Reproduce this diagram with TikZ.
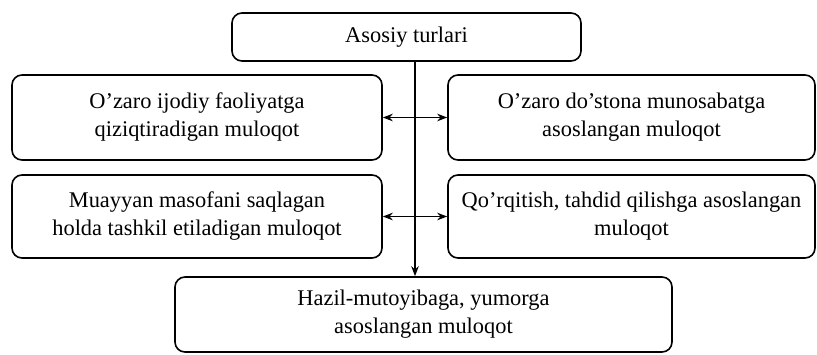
\documentclass[tikz,border=0pt]{standalone}
\usepackage{fontspec}
\setmainfont{Liberation Serif}
\usepackage{tikz}
\usetikzlibrary{arrows.meta, positioning, calc}
\tikzset{
  turbox/.style={draw, thick, rounded corners=5pt, align=center, font=\fontsize{11.2}{14}\selectfont, inner sep=0pt},
  link/.style={thick, {Stealth[length=5pt]}-{Stealth[length=5pt]}},
}

\begin{document}
\begin{tikzpicture}[x=0.5pt, y=-0.5pt]
  \useasboundingbox (0,0) rectangle (817,354);
  \node[turbox, minimum width=174.5pt, minimum height=24pt] (tur) at (406.5,37) {Asosiy turlari};
  \node[turbox, minimum width=185pt, minimum height=42.5pt] (ijod) at (197,117.5) {O’zaro ijodiy faoliyatga\\qiziqtiradigan muloqot};
  \node[turbox, minimum width=185pt, minimum height=41.5pt] (masofa) at (197,216.5) {Muayyan masofani saqlagan\\holda tashkil etiladigan muloqot};
  \node[turbox, minimum width=183.5pt, minimum height=42.5pt] (dost) at (631.5,117.5) {O’zaro do’stona munosabatga\\asoslangan muloqot};
  \node[turbox, minimum width=183.5pt, minimum height=41.5pt] (tahdid) at (631.5,216.5) {Qo’rqitish, tahdid qilishga asoslangan\\muloqot};
  \node[turbox, minimum width=248.5pt, minimum height=37.5pt] (hazil) at (423.5,314.5) {Hazil-mutoyibaga, yumorga\\asoslangan muloqot};
  \coordinate (stem) at ($(tur.south)+(8.5,0)$);
  \draw[thick, -{Stealth[length=5pt]}] (stem) -- (stem |- hazil.north);
  \draw[link] (ijod.east) -- (dost.west);
  \draw[link] (masofa.east) -- (tahdid.west);
\end{tikzpicture}
\end{document}
